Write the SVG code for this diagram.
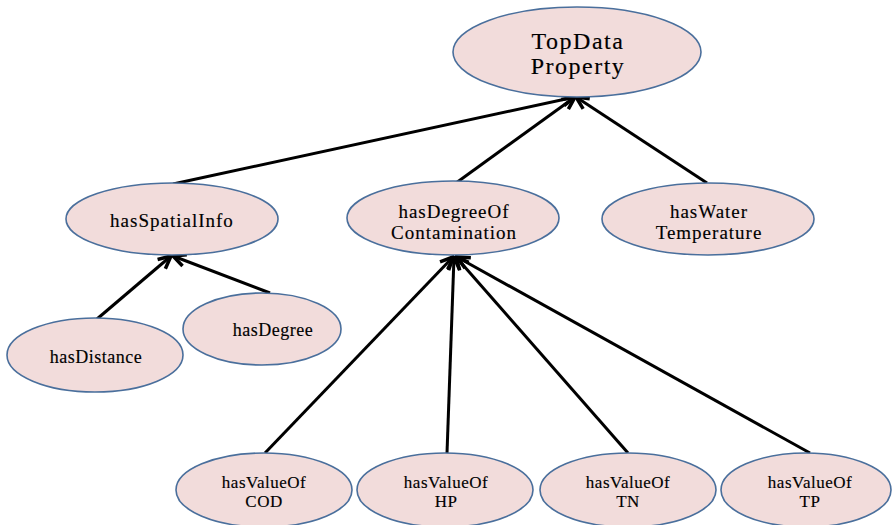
<svg xmlns="http://www.w3.org/2000/svg" width="892" height="525" viewBox="0 0 892 525">
  <style>
    .node ellipse { fill: #F2DCDB; stroke: #4A6F9C; stroke-width: 1.6; }
    .node text { font-family: "Liberation Serif", "Times New Roman", serif; fill: #000; stroke: #000; stroke-width: 0.15; text-anchor: middle; }
    .top text { font-size: 24px; letter-spacing: 1.5px; }
    .mid text { font-size: 19px; letter-spacing: 1px; }
    .leaf text { font-size: 18px; letter-spacing: 0.5px; }
    .val text { font-size: 17px; letter-spacing: 0.5px; }
    .edges line { stroke: #000; stroke-width: 3; marker-end: url(#arrow); }
  </style>
  <defs>
    <marker id="arrow" viewBox="0 0 16 16" refX="14.5" refY="8" markerWidth="16" markerHeight="16" markerUnits="userSpaceOnUse" orient="auto">
      <path d="M2,2 L14.5,8 L2,14" fill="none" stroke="#000" stroke-width="3.5" stroke-linejoin="miter"/>
    </marker>
  </defs>
  <rect width="892" height="525" fill="#fff"/>

  <g class="edges">
    <line x1="173" y1="184" x2="575" y2="97"/>
    <line x1="456" y1="183" x2="575" y2="97"/>
    <line x1="707" y1="183" x2="576" y2="97"/>
    <line x1="97" y1="319" x2="171" y2="256"/>
    <line x1="270" y1="293" x2="173" y2="256"/>
    <line x1="265" y1="453" x2="453" y2="257"/>
    <line x1="447" y1="453" x2="454" y2="257"/>
    <line x1="628" y1="453" x2="456" y2="257"/>
    <line x1="810" y1="453" x2="457" y2="257"/>
  </g>

  <g id="topDataProperty" class="node top">
    <ellipse cx="577" cy="52" rx="124" ry="45"/>
    <text x="578" y="49">TopData</text>
    <text x="578" y="74">Property</text>
  </g>

  <g id="hasSpatialInfo" class="node mid">
    <ellipse cx="172" cy="219" rx="106" ry="36"/>
    <text x="172" y="227">hasSpatialInfo</text>
  </g>

  <g id="hasDegreeOfContamination" class="node mid">
    <ellipse cx="453" cy="218" rx="106" ry="37"/>
    <text x="454" y="218">hasDegreeOf</text>
    <text x="454" y="239">Contamination</text>
  </g>

  <g id="hasWaterTemperature" class="node mid">
    <ellipse cx="708" cy="219" rx="106" ry="36"/>
    <text x="709" y="218">hasWater</text>
    <text x="709" y="239">Temperature</text>
  </g>

  <g id="hasDistance" class="node leaf">
    <ellipse cx="95" cy="355" rx="88" ry="37"/>
    <text x="96" y="363">hasDistance</text>
  </g>

  <g id="hasDegree" class="node leaf">
    <ellipse cx="262" cy="329" rx="79" ry="36"/>
    <text x="273" y="336">hasDegree</text>
  </g>

  <g id="hasValueOfCOD" class="node val">
    <ellipse cx="264" cy="490" rx="88" ry="37"/>
    <text x="264" y="488">hasValueOf</text>
    <text x="264" y="507">COD</text>
  </g>

  <g id="hasValueOfHP" class="node val">
    <ellipse cx="445" cy="490" rx="88" ry="37"/>
    <text x="446" y="488">hasValueOf</text>
    <text x="446" y="507">HP</text>
  </g>

  <g id="hasValueOfTN" class="node val">
    <ellipse cx="628" cy="490" rx="88" ry="37"/>
    <text x="628" y="488">hasValueOf</text>
    <text x="628" y="507">TN</text>
  </g>

  <g id="hasValueOfTP" class="node val">
    <ellipse cx="806" cy="490" rx="85" ry="37"/>
    <text x="810" y="488">hasValueOf</text>
    <text x="810" y="507">TP</text>
  </g>
</svg>
